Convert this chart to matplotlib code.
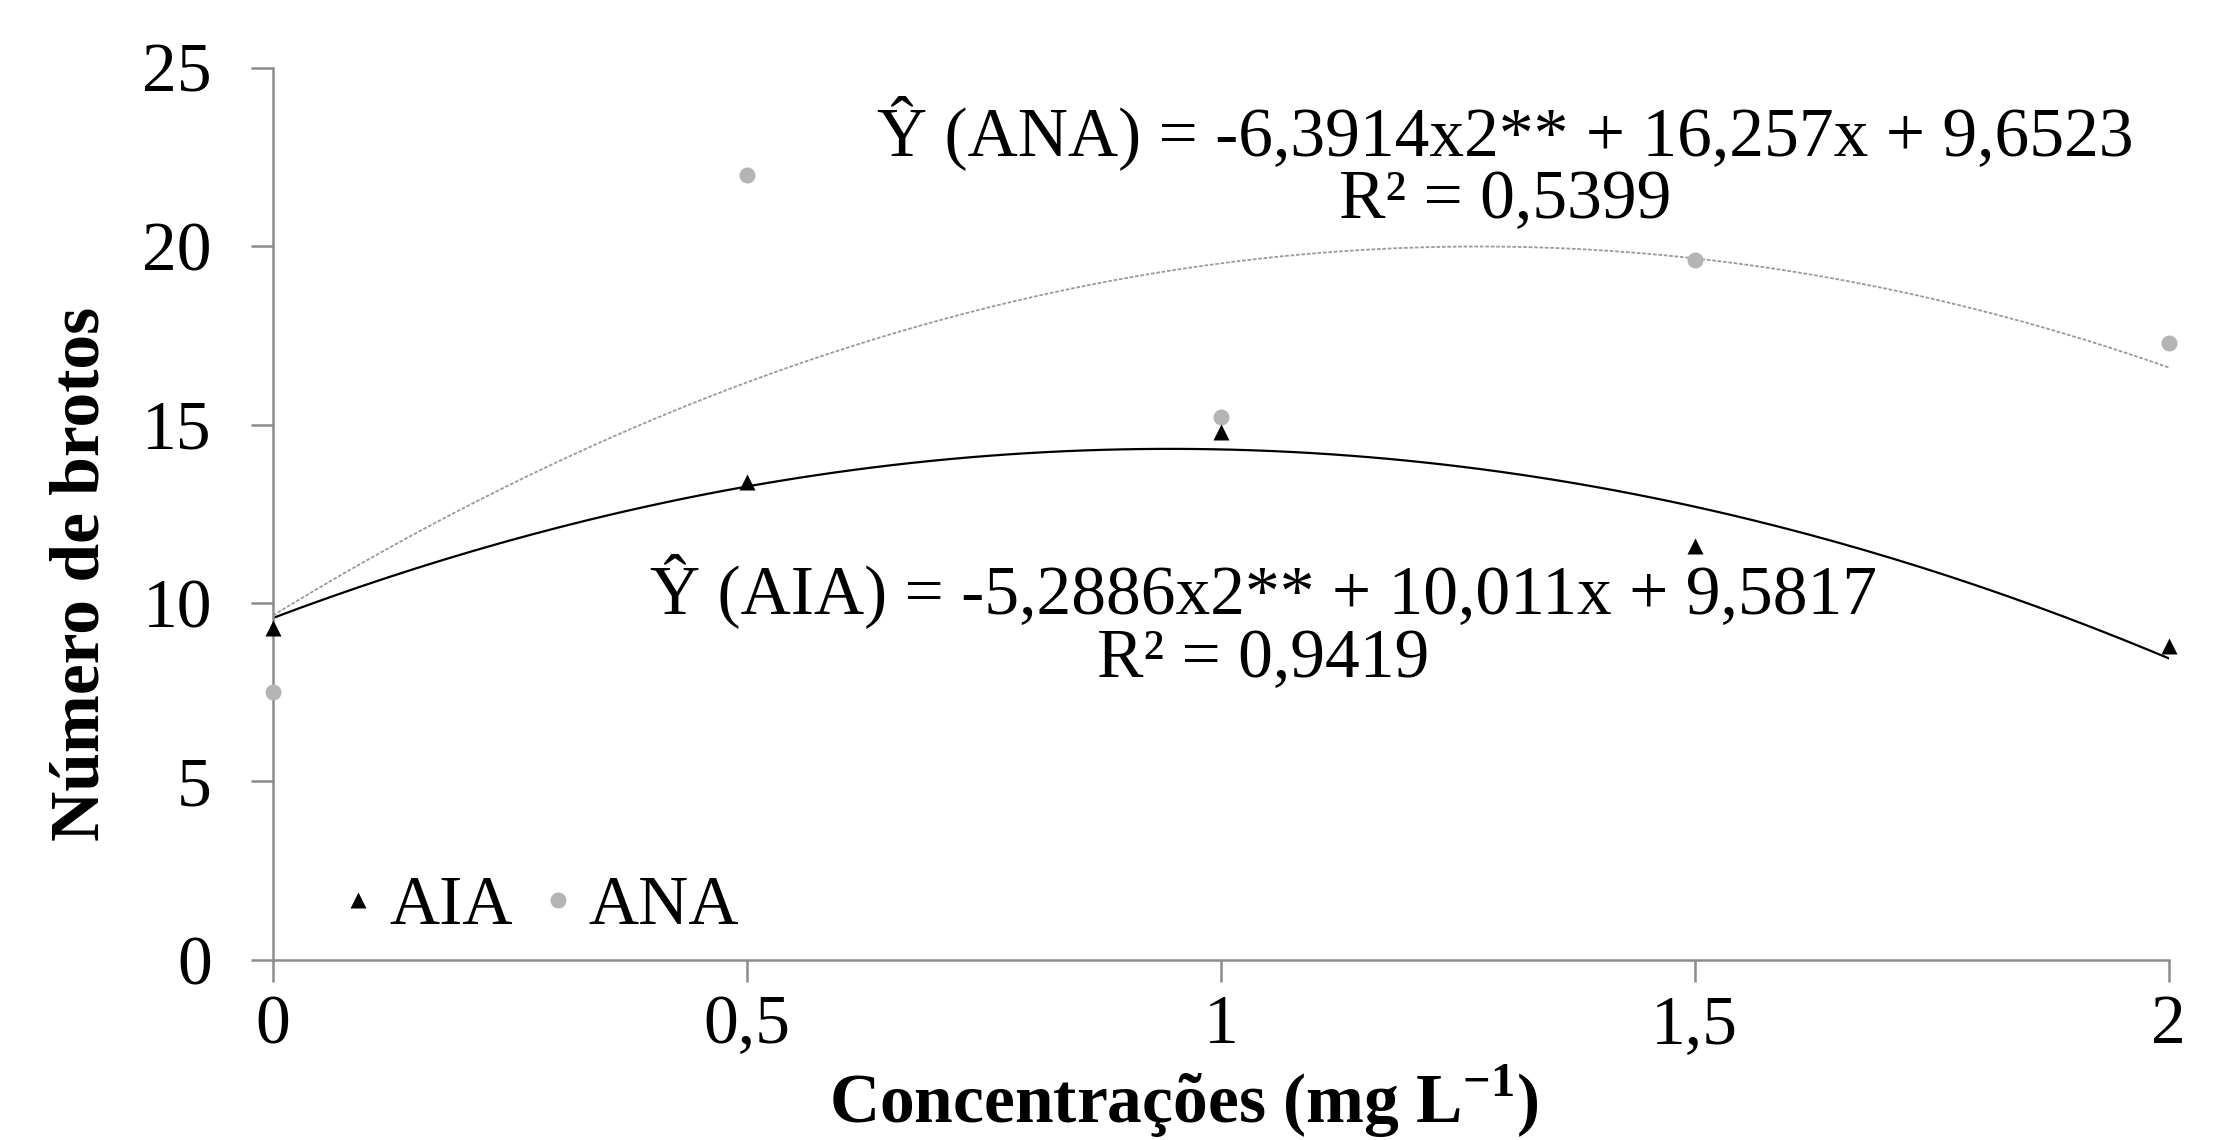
import numpy as np
import matplotlib
matplotlib.use("Agg")
import matplotlib.pyplot as plt

# --- data ---
conc = [0, 0.5, 1, 1.5, 2]
aia = [9.3, 13.4, 14.8, 11.6, 8.8]
ana = [7.5, 22.0, 15.2, 19.6, 17.3]

# fitted quadratics printed on the chart (a, b, c)
aia_fit = [-5.2886, 10.011, 9.5817]
ana_fit = [-6.3914, 16.257, 9.6523]

x_ticks = [0, 0.5, 1, 1.5, 2]
x_labels = ["0", "0,5", "1", "1,5", "2"]
y_ticks = [0, 5, 10, 15, 20, 25]

ana_eq = "Ŷ (ANA) = -6,3914x2** + 16,257x + 9,6523\nR² = 0,5399"
aia_eq = "Ŷ (AIA) = -5,2886x2** + 10,011x + 9,5817\nR² = 0,9419"

plt.rcParams['font.family'] = ['Liberation Serif', 'DejaVu Serif']
plt.rcParams['mathtext.fontset'] = 'custom'
plt.rcParams['mathtext.rm'] = 'Liberation Serif'
plt.rcParams['mathtext.bf'] = 'Liberation Serif:bold'

FS = 50
AX_COLOR = '#8c8c8c'

fig = plt.figure(figsize=(22.13, 11.40), dpi=100)
ax = fig.add_axes([0.1234, 0.158, 0.8566, 0.7826])

xs = np.linspace(0, 2, 200)
ax.plot(xs, np.polyval(ana_fit, xs), color='#9a9a9a', lw=1.3, ls=(0, (2, 1)), zorder=2)
ax.plot(xs, np.polyval(aia_fit, xs), color='black', lw=1.6, zorder=2)

ax.plot(conc, ana, 'o', color='#b4b4b4', ms=11.5, mec='none', label='ANA', clip_on=False, zorder=3)
ax.plot(conc, aia, '^', color='black', ms=11.5, mec='none', label='AIA', clip_on=False, zorder=3)

ax.set_xlim(0, 2)
ax.set_ylim(0, 25)
ax.set_xticks(x_ticks)
ax.set_xticklabels(x_labels)
ax.set_yticks(y_ticks)

for side in ['top', 'right']:
    ax.spines[side].set_visible(False)
for side in ['left', 'bottom']:
    ax.spines[side].set_color(AX_COLOR)
    ax.spines[side].set_linewidth(1.8)
ax.tick_params(axis='both', direction='out', length=16, width=1.8, color=AX_COLOR,
               labelsize=FS, labelcolor='black')
ax.tick_params(axis='x', pad=9)
ax.tick_params(axis='y', pad=28)

ax.text(1.30, 22.3, ana_eq, ha='center', va='center', fontsize=FS, linespacing=1.0)
ax.text(1.045, 9.45, aia_eq, ha='center', va='center', fontsize=FS, linespacing=1.0)

handles, labels = ax.get_legend_handles_labels()
ax.legend(handles[::-1], labels[::-1], loc='lower left', bbox_to_anchor=(-0.003, -0.047),
          ncol=2, frameon=False, fontsize=FS, handletextpad=0.05, columnspacing=0.25,
          handlelength=0.8)

fig.text(0.037, 0.497, "Número de brotos", rotation=90, ha='center', va='center',
         fontsize=FS, fontweight='bold')
fig.text(0.535, 0.034, r"Concentrações (mg L$^{\mathbf{-1}}$)", ha='center', va='center',
         fontsize=FS, fontweight='bold')

fig.savefig("out.png", dpi=100)
